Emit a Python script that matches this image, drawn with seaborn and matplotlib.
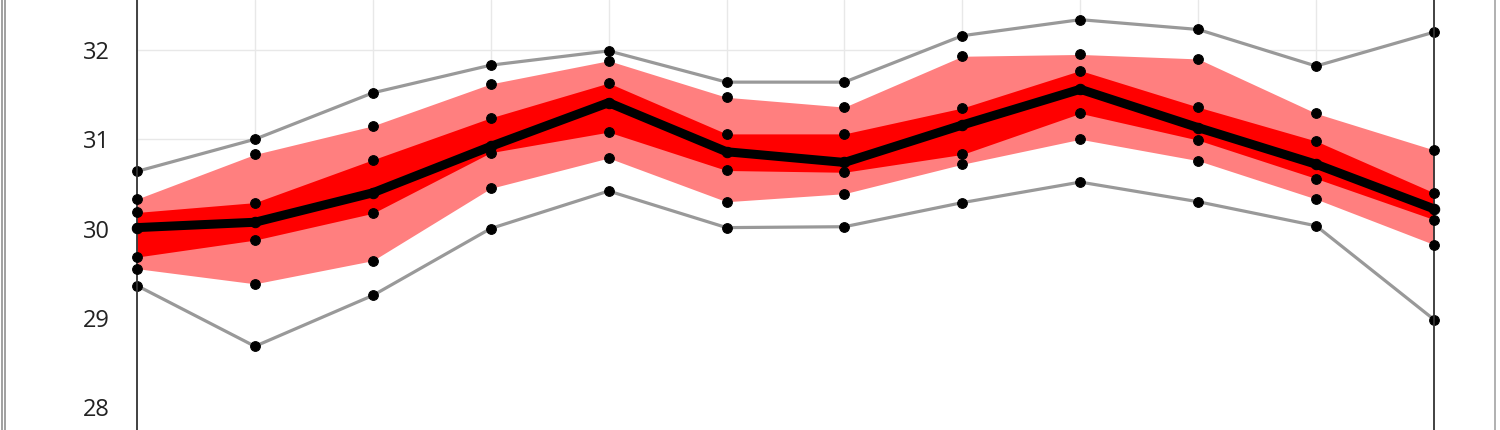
import matplotlib
matplotlib.use("Agg")
import matplotlib.pyplot as plt
import seaborn as sns
import pandas as pd
import numpy as np
from matplotlib.lines import Line2D

months = list(range(12))
max_vals = [30.64, 31.00, 31.52, 31.83, 31.99, 31.64, 31.64, 32.16, 32.34, 32.23, 31.82, 32.20]
p90_vals = [30.33, 30.83, 31.15, 31.62, 31.88, 31.47, 31.36, 31.93, 31.95, 31.90, 31.29, 30.88]
p75_vals = [30.18, 30.29, 30.77, 31.24, 31.63, 31.06, 31.06, 31.35, 31.77, 31.36, 30.98, 30.40]
median_vals = [30.01, 30.07, 30.40, 30.92, 31.41, 30.86, 30.74, 31.16, 31.56, 31.13, 30.72, 30.22]
p25_vals = [29.68, 29.87, 30.17, 30.85, 31.08, 30.65, 30.63, 30.83, 31.29, 30.99, 30.56, 30.10]
p10_vals = [29.55, 29.38, 29.64, 30.45, 30.79, 30.30, 30.39, 30.72, 31.00, 30.76, 30.33, 29.82]
min_vals = [29.36, 28.68, 29.25, 30.00, 30.42, 30.01, 30.02, 30.29, 30.52, 30.30, 30.03, 28.98]
y_ticks = [28, 29, 30, 31, 32]

df = pd.DataFrame({
    "x": months,
    "max": max_vals, "p90": p90_vals, "p75": p75_vals, "median": median_vals,
    "p25": p25_vals, "p10": p10_vals, "min": min_vals,
})

sns.set_theme(style="white")
plt.rcParams['font.family'] = ['Open Sans', 'DejaVu Sans']

fig = plt.figure(figsize=(15, 4.3), dpi=100)
ax = fig.add_axes([137/1500, 0, 1297/1500, 1])

y_lo, y_hi = 28 - 23/89.25, 32 + 50/89.25

ax.grid(True, color="#e8e8e8", lw=1, zorder=0.2)
ax.set_axisbelow(True)

# white area below the max line hides the grid there
ax.fill_between(df["x"], y_lo, df["max"], color="white", lw=0, zorder=0.9)
ax.fill_between(df["x"], df["p10"], df["p90"], color="#FF7F7F", lw=0, zorder=1)
ax.fill_between(df["x"], df["p25"], df["p75"], color="#FF0000", lw=0, zorder=2)

for col in ["max", "min"]:
    sns.lineplot(data=df, x="x", y=col, ax=ax, color="#999999", lw=2.3, zorder=3,
                 marker="o", markersize=7, markerfacecolor="black", markeredgecolor="black",
                 clip_on=False)
sns.lineplot(data=df, x="x", y="median", ax=ax, color="black", lw=6.5, zorder=5,
             marker="o", markersize=7.5, markerfacecolor="black", markeredgecolor="black",
             clip_on=False)
for col in ["p90", "p75", "p25", "p10"]:
    sns.lineplot(data=df, x="x", y=col, ax=ax, color="black", lw=0, zorder=6,
                 marker="o", markersize=7, markerfacecolor="black", markeredgecolor="black",
                 clip_on=False)

ax.set_xlim(0, 11)
ax.set_ylim(y_lo, y_hi)
ax.set_xticks(months)
ax.set_xticklabels([])
ax.set_yticks(y_ticks)
ax.set_yticklabels([str(t) for t in y_ticks], fontsize=17, color="#222222")
ax.tick_params(axis="y", length=0, pad=19.5)
ax.tick_params(axis="x", length=0)
for gl in ax.get_xgridlines() + ax.get_ygridlines():
    gl.set_zorder(0.2)
ax.set_xlabel("")
ax.set_ylabel("")
for s in ["top", "bottom"]:
    ax.spines[s].set_visible(False)
for s in ["left", "right"]:
    ax.spines[s].set_visible(True)
    ax.spines[s].set_color("#333333")
    ax.spines[s].set_linewidth(1.3)
    ax.spines[s].set_zorder(4)

# outer frame
for xp, c in [(1.5, "#999999"), (4.5, "#999999"), (1495, "#aaaaaa")]:
    fig.add_artist(Line2D([xp/1500, xp/1500], [0, 1], transform=fig.transFigure,
                          color=c, lw=1.3))

fig.savefig("out.png", dpi=100)
